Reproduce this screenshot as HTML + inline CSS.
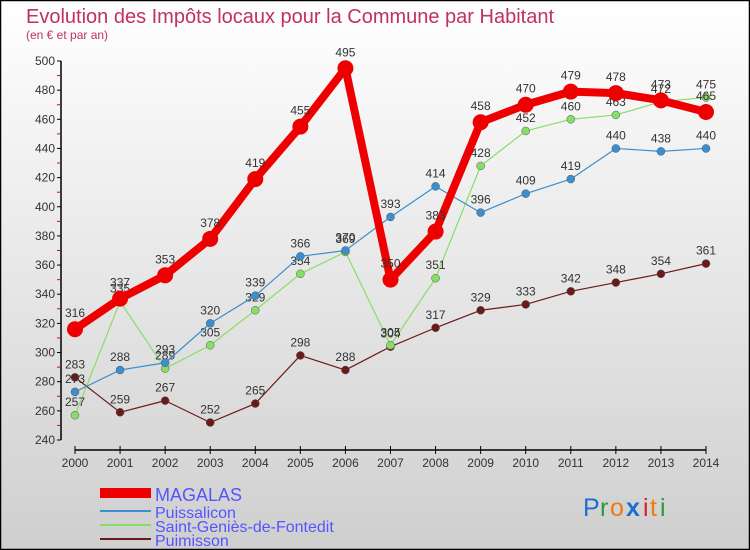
<!DOCTYPE html>
<html><head><meta charset="utf-8"><style>
body{margin:0;width:750px;height:550px;overflow:hidden}
svg{display:block;font-family:"Liberation Sans",sans-serif}
</style></head><body>
<svg id="chart" width="750" height="550" xmlns="http://www.w3.org/2000/svg">
<defs><linearGradient id="bg" x1="0" y1="0" x2="0" y2="1"><stop offset="0" stop-color="#ffffff"/><stop offset="1" stop-color="#cfcfcf"/></linearGradient></defs>
<rect x="0.5" y="0.5" width="749" height="549" fill="url(#bg)" stroke="#000" stroke-width="1.5"/>
<text x="26" y="23" font-size="20" fill="#c0315f" textLength="528" lengthAdjust="spacingAndGlyphs">Evolution des Impôts locaux pour la Commune par Habitant</text>
<text x="26" y="39" font-size="12" fill="#c0315f">(en € et par an)</text>
<g id="axes"></g><g id="series"></g><g id="legend"></g>
<g font-size="25" font-family="'Liberation Sans',sans-serif">
<text x="583" y="516" fill="#1a6fd0">P</text><text x="600" y="516" fill="#2a9a3a">r</text><text x="610" y="516" fill="#f07a10">o</text><text x="626" y="516" fill="#1a6fd0" font-weight="bold">x</text><text x="643" y="516" fill="#e02020">i</text><text x="650" y="516" fill="#f07a10">t</text><text x="660" y="516" fill="#2a9a3a">i</text></g>
</svg>
<script>
const years=[2000,2001,2002,2003,2004,2005,2006,2007,2008,2009,2010,2011,2012,2013,2014];
const yTicks=[240,260,280,300,320,340,360,380,400,420,440,460,480,500];
const magalas=[316,337,353,378,419,455,495,350,383,458,470,479,478,473,465];
const puissalicon=[273,288,293,320,339,366,370,393,414,396,409,419,440,438,440];
const stGenies=[257,335,289,305,329,354,369,305,351,428,452,460,463,472,475];
const puimisson=[283,259,267,252,265,298,288,304,317,329,333,342,348,354,361];
const NS="http://www.w3.org/2000/svg";
const x=i=>75+i*(706-75)/(years.length-1);
const y=v=>440-(v-240)*(440-61)/260;
function mk(tag,attrs,parent,txt){const e=document.createElementNS(NS,tag);for(const k in attrs)e.setAttribute(k,attrs[k]);if(txt!==undefined)e.textContent=txt;parent.appendChild(e);return e;}
const ax=document.getElementById('axes');
let e=mk('line',{x1:61,y1:y(500),x2:61,y2:y(240),stroke:'#000','stroke-width':1.5},ax);

yTicks.forEach((t,i)=>{
 mk('line',{x1:57,y1:y(t),x2:61,y2:y(t),stroke:'#000'},ax);
 if(i<yTicks.length-1)mk('line',{x1:57,y1:y(t+10),x2:60,y2:y(t+10),stroke:'#e00'},ax);
 const l=mk('text',{x:55,y:y(t)+4,'text-anchor':'end','font-size':12,fill:'#333'},ax,t);
 
});
e=mk('line',{x1:75,y1:450,x2:706,y2:450,stroke:'#000','stroke-width':1.5},ax);

years.forEach((yr,i)=>{
 mk('line',{x1:x(i),y1:446,x2:x(i),y2:454,stroke:'#000'},ax);
 const l=mk('text',{x:x(i),y:467,'text-anchor':'middle','font-size':12,fill:'#333'},ax,yr);
 
});
const series=[
 {name:'puimisson',label:'Puimisson',data:puimisson,color:'#6b1a1a',w:1.2,r:4},
 {name:'saint-genies',label:'Saint-Geniès-de-Fontedit',data:stGenies,color:'#88dd66',w:1.2,r:4},
 {name:'puissalicon',label:'Puissalicon',data:puissalicon,color:'#3a8fd0',w:1.2,r:4},
 {name:'magalas',label:'MAGALAS',data:magalas,color:'#ee0000',w:8,r:8}];
const sg=document.getElementById('series');
series.forEach(s=>{
 const g=mk('g',{},sg);
 
 const p=mk('polyline',{points:s.data.map((v,i)=>x(i)+','+y(v)).join(' '),fill:'none',stroke:s.color,'stroke-width':s.w,'stroke-linejoin':'round'},g);
 
 s.data.forEach((v,i)=>{
  const c=mk('circle',{cx:x(i),cy:y(v),r:s.r,fill:s.color,stroke:s.w>2?'none':'#555','stroke-width':0.5},g);
  
  const t=mk('text',{x:x(i),y:y(v)-(s.w>2?12:9),'text-anchor':'middle','font-size':12,fill:'#333'},g,v);
  
 });
});
const lg=document.getElementById('legend');
[{s:series[3],y:493},{s:series[2],y:513},{s:series[1],y:527},{s:series[0],y:541}].forEach(o=>{
 const g=mk('g',{},lg);
 
 mk('line',{x1:100,y1:o.y-(o.s.w>2?0:2),x2:151,y2:o.y-(o.s.w>2?0:2),stroke:o.s.color,'stroke-width':o.s.w>2?10:2},g);
 mk('text',{x:155,y:o.s.w>2?o.y+8:o.y+5,'font-size':o.s.w>2?18:16,fill:'#5555ff'},g,o.s.label);
});
</script>
</body></html>
